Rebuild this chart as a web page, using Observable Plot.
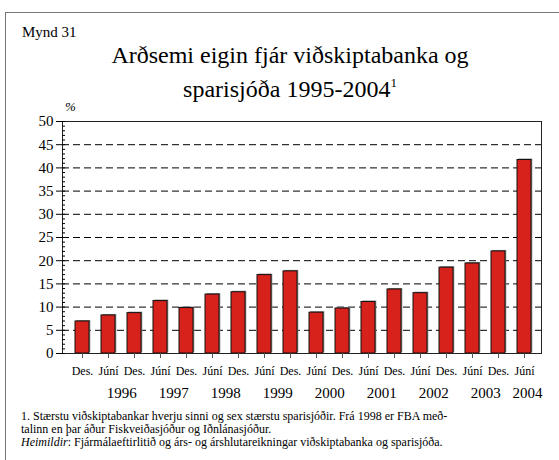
<!DOCTYPE html>
<html>
<head>
<meta charset="utf-8">
<script src="https://cdn.jsdelivr.net/npm/d3@7"></script>
<script src="https://cdn.jsdelivr.net/npm/@observablehq/plot@0.6"></script>
<style>
  html, body { margin: 0; padding: 0; background: #fff; }
  body { width: 559px; height: 460px; position: relative; overflow: hidden;
         font-family: 'Liberation Serif', serif; color: #000; }
  .frame { position: absolute; left: 5px; top: 12px; width: 700px; height: 600px;
           border-left: 1px solid #777; border-top: 1px solid #777; }
  .abs { position: absolute; white-space: nowrap; font-family: 'Liberation Serif', serif; }
  #mynd { left: 22px; top: 24px; font-size: 15px; }
  #title { left: 0; width: 580px; top: 38px; text-align: center; font-size: 24px; line-height: 34px; }
  #title sup { font-size: 13px; vertical-align: 0; position: relative; top: -10px; }
  #pct { left: 65px; top: 99px; font-size: 13px; font-style: italic; }
  #chart { position: absolute; left: 0; top: 100px; }
  #notes { left: 21px; top: 410px; font-size: 12px; line-height: 13px; }
  #chart svg, #chart svg text { font-family: 'Liberation Serif', serif !important; }
</style>
</head>
<body>
<div class="frame"></div>
<div class="abs" id="mynd">Mynd 31</div>
<div class="abs" id="title">Arðsemi eigin fjár viðskiptabanka og<br>sparisjóða 1995-2004<sup>1</sup></div>
<div class="abs" id="pct">%</div>
<div id="chart"></div>
<div class="abs" id="notes">1. Stærstu viðskiptabankar hverju sinni og sex stærstu sparisjóðir. Frá 1998 er FBA með-<br>talinn en þar áður Fiskveiðasjóður og Iðnlánasjóður.<br><i>Heimildir</i>: Fjármálaeftirlitið og árs- og árshlutareikningar viðskiptabanka og sparisjóða.</div>
<script>
const periods = ["Des. 1995","Júní 1996","Des. 1996","Júní 1997","Des. 1997","Júní 1998","Des. 1998","Júní 1999","Des. 1999","Júní 2000","Des. 2000","Júní 2001","Des. 2001","Júní 2002","Des. 2002","Júní 2003","Des. 2003","Júní 2004"];
const values = [6.9, 8.2, 8.7, 11.3, 9.8, 12.7, 13.2, 16.9, 17.7, 8.8, 9.7, 11.1, 13.8, 13.0, 18.5, 19.4, 22.0, 41.7];
const yearLabels = ["1996","1997","1998","1999","2000","2001","2002","2003","2004"];
const yearAnchors = ["Júní 1996","Júní 1997","Júní 1998","Júní 1999","Júní 2000","Júní 2001","Júní 2002","Júní 2003","Júní 2004"];
const majorTicks = d3.range(0, 51, 5);
const minorTicks = d3.range(0, 51, 1);

const data = periods.map((p, i) => ({period: p, value: values[i]}));
const years = yearLabels.map((y, i) => ({label: y, at: yearAnchors[i], yv: 0}));
const yearsMid = years.slice(0, -1);
const yearsLast = years.slice(-1);

const chart = Plot.plot({
  width: 559,
  height: 310,
  marginLeft: 62,
  marginRight: 18,
  marginTop: 21,
  marginBottom: 57,
  style: {fontFamily: "'Liberation Serif', serif", fontSize: "14px", background: "transparent", color: "#000", overflow: "visible"},
  x: {domain: periods, range: [70.7, 535.7], paddingInner: 0.445, paddingOuter: 0},
  y: {domain: [0, 50]},
  marks: [
    Plot.gridY(d3.range(5, 51, 5), {stroke: "#000", strokeOpacity: 1, strokeDasharray: "7,4"}),
    Plot.barY(data, {x: "period", y: "value", fill: "#8a8a8a", dx: 1.3, dy: -1}),
    Plot.barY(data, {x: "period", y: "value", fill: "#d7211b", stroke: "#111", strokeWidth: 1}),
    Plot.frame({stroke: "#222"}),
    Plot.axisY({ticks: majorTicks, tickSize: 6, tickPadding: 3, fontSize: 15, stroke: "#000", label: null}),
    Plot.axisY({ticks: minorTicks, tickSize: 3, dx: 3, tickFormat: () => "", stroke: "#000", label: null}),
    Plot.axisX({tickSize: 5, tickPadding: 8, fontSize: 12, stroke: "#555", tickFormat: d => d.split(" ")[0], label: null}),
    Plot.text(yearsMid, {x: "at", y: "yv", text: "label", dy: 40, dx: 13.2, fontSize: 15, fill: "#000", lineAnchor: "middle"}),
    Plot.text(yearsLast, {x: "at", y: "yv", text: "label", dy: 40, dx: 3, fontSize: 15, fill: "#000", lineAnchor: "middle"})
  ]
});
document.getElementById("chart").appendChild(chart);
</script>
</body>
</html>
